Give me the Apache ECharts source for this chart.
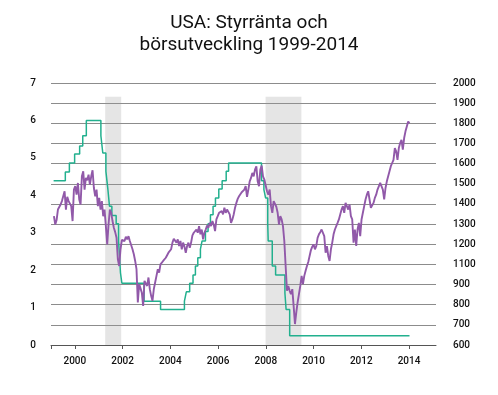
<!DOCTYPE html>
<html>
<head>
<meta charset="utf-8">
<script src="https://cdn.jsdelivr.net/npm/echarts@6/dist/echarts.min.js"></script>
<style>
html,body{margin:0;padding:0;background:#fff;}
#c{width:498px;height:395px;}
</style>
</head>
<body>
<div id="c"></div>
<script>
// Title
const titleLines = ['USA: Styrränta och', 'börsutveckling 1999-2014'];

// X axis (years)
const xTickYears = [1999, 2000, 2002, 2004, 2006, 2008, 2010, 2012, 2014];
const xLabelYears = [2000, 2002, 2004, 2006, 2008, 2010, 2012, 2014];

// Left axis (policy rate, %)
const leftTicks = [0, 1, 2, 3, 4, 5, 6, 7];
// Right axis tick labels as printed in the reference (evenly spaced, 1000 is absent)
const rightTickLabels = ['600', '700', '800', '900', '1100', '1200', '1300', '1400', '1500', '1600', '1700', '1800', '1900', '2000'];

// Recession periods (shaded)
const recessions = [[2001.27, 2001.94], [2007.99, 2009.49]];

// Policy rate: change dates and new levels (as plotted)
const rateDates = [1999.11, 1999.60, 1999.77, 1999.99, 2000.20, 2000.33, 2000.48, 2001.09, 2001.17, 2001.30, 2001.38, 2001.45, 2001.55, 2001.73, 2001.83, 2001.87, 2001.91, 2001.97, 2002.90, 2003.59, 2004.59, 2004.67, 2004.81, 2004.95, 2005.05, 2005.15, 2005.26, 2005.33, 2005.47, 2005.58, 2005.68, 2005.79, 2005.89, 2006.03, 2006.17, 2006.34, 2006.44, 2007.82, 2007.92, 2007.99, 2008.08, 2008.10, 2008.27, 2008.41, 2008.80, 2008.85, 2009.00, 2014.02];
const rateValues = [4.39, 4.62, 4.86, 5.10, 5.32, 5.59, 6.00, 5.59, 5.13, 4.64, 4.18, 3.71, 3.46, 3.24, 2.78, 2.38, 1.93, 1.65, 1.17, 0.95, 1.17, 1.42, 1.65, 1.87, 2.11, 2.33, 2.56, 2.78, 3.03, 3.24, 3.48, 3.71, 3.93, 4.17, 4.39, 4.64, 4.86, 4.39, 4.15, 3.93, 3.24, 2.78, 2.11, 1.87, 1.39, 0.95, 0.25, 0.25];

// Stock index: regularly sampled (every ~20 days) from start year, right-axis units
const stockStart = 1999.123;
const stockStep = 0.05579;
const stockValues = [
1239,1198,1220,1272,1281,1297,1314,1305,1363,1272,1335,1314,1318,1289,1215,1371,1388,1346,1404,1322,1297,1437,1462,1371,1429,1417,1445,1396,1437,1467,1379,1338,1371,1289,1330,1272,1314,1239,1272,1190,1099,1198,1272,1256,1215,1182,1160,1132,1025,992,1075,1121,1124,1116,1137,1124,1140,1116,1116,1075,1050,1017,976,811,902,
910,860,794,918,926,893,935,877,844,819,877,910,943,976,959,1000,992,1017,1009,1033,1042,1058,1066,1075,1108,1127,1132,1108,1124,1091,1116,1075,1108,1088,1058,1091,1108,1083,1108,1144,1157,1165,1173,1157,1190,1149,1173,1124,1157,1173,1193,1182,1206,1190,1215,1198,1165,1223,1239,1256,1248,1264,1248,1281,1256,1272,1281,1248,1206,
1223,1248,1281,1305,1325,1338,1346,1358,1366,1371,1388,1335,1371,1412,1429,1454,1437,1470,1487,1412,1388,1470,1490,1437,1421,1421,1363,1346,1371,1289,1256,1314,1322,1286,1256,1198,1239,1223,1190,1116,992,869,893,869,852,877,794,704,762,811,852,893,943,902,943,968,992,1012,1042,1071,1088,1099,1075,1091,1132,1149,1160,1173,1165,
1140,1058,1091,1042,1017,1075,1108,1149,1173,1165,1206,1223,1248,1272,1289,1256,1305,1314,1272,1297,1239,1223,1108,1173,1091,1173,1206,1140,1223,1256,1289,1322,1346,1363,1322,1281,1272,1305,1330,1346,1371,1379,1404,1396,1371,1322,1379,1412,1437,1462,1487,1503,1519,1577,1561,1519,1577,1602,1618,1569,1627,1660,1684,1709,1701
];

const rateData = rateDates.map((d, i) => [d, rateValues[i]]);
const stockData = stockValues.map((v, i) => [stockStart + i * stockStep, v]);

const FONT = 'Roboto, "Noto Sans", sans-serif';
const chart = echarts.init(document.getElementById('c'), null, {renderer: 'canvas'});
chart.setOption({
  animation: false,
  backgroundColor: '#ffffff',
  title: {
    text: titleLines.join('\n'),
    left: 'center',
    top: 7,
    textStyle: {fontFamily: FONT, fontSize: 19, fontWeight: 'normal', color: '#111', lineHeight: 22}
  },
  grid: {left: 51, right: 62, top: 83, bottom: 50, containLabel: false},
  xAxis: {
    type: 'value',
    min: 1999,
    max: 2015.13,
    axisLine: {show: true, lineStyle: {color: '#555', width: 1}},
    axisTick: {show: true, length: 4, customValues: xTickYears, lineStyle: {color: '#555'}},
    axisLabel: {customValues: xLabelYears, color: '#111', fontFamily: FONT, fontSize: 10, fontWeight: 500, margin: 11, formatter: v => String(v)},
    splitLine: {show: false}
  },
  yAxis: [
    {
      type: 'value', position: 'left', min: 0, max: 7, interval: 1,
      axisLine: {show: false}, axisTick: {show: false}, splitLine: {show: false},
      axisLabel: {color: '#111', fontFamily: FONT, fontSize: 10, fontWeight: 500, margin: 15, customValues: leftTicks}
    },
    {
      type: 'value', position: 'right', min: 600, max: 1900, interval: 100,
      axisLine: {show: false}, axisTick: {show: false},
      splitLine: {show: true, lineStyle: {color: '#8c8c8c', width: 1}},
      axisLabel: {
        color: '#111', fontFamily: FONT, fontSize: 10, fontWeight: 500, margin: 17, align: 'left',
        formatter: v => rightTickLabels[Math.round((v - 600) / 100)] || ''
      }
    }
  ],
  series: [
    {
      type: 'line', yAxisIndex: 0, data: [], silent: true,
      markArea: {
        silent: true,
        itemStyle: {color: 'rgba(150,150,150,0.25)'},
        data: recessions.map(r => [{xAxis: r[0], yAxis: 6.63}, {xAxis: r[1], yAxis: 0}])
      }
    },
    {
      name: 'Styrränta', type: 'line', yAxisIndex: 0, step: 'end', data: rateData,
      showSymbol: false, lineStyle: {color: '#22b08e', width: 1.5}, z: 3
    },
    {
      name: 'Börs', type: 'line', yAxisIndex: 1, data: stockData,
      showSymbol: false, lineStyle: {color: '#9159a9', width: 1.9}, z: 4
    }
  ]
});
</script>
</body>
</html>
